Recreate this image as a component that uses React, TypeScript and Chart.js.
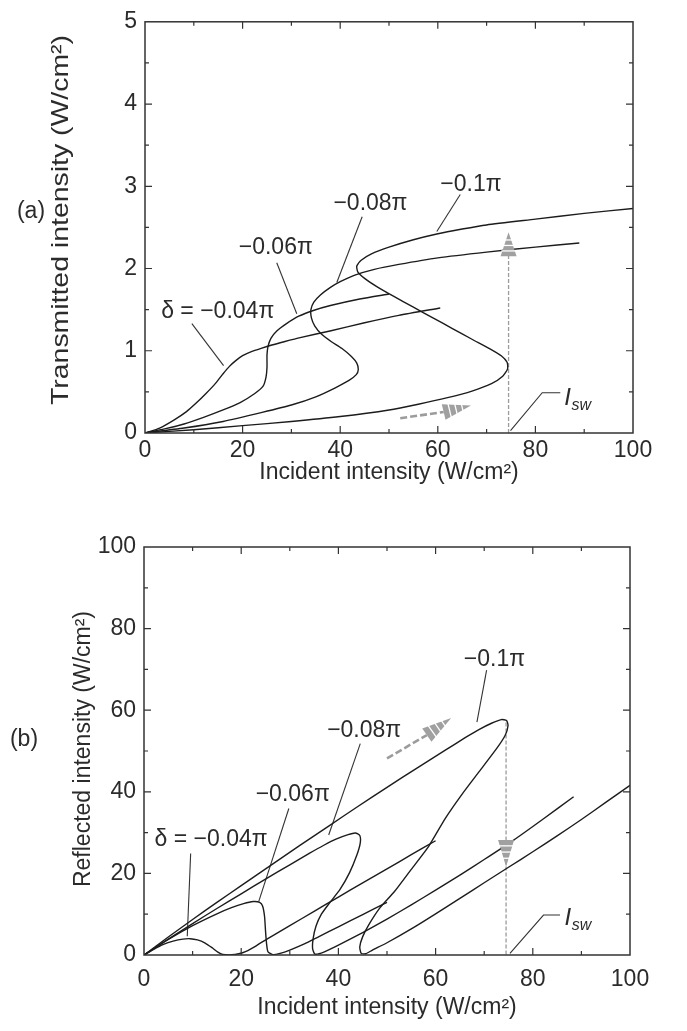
import React, { useEffect, useRef } from "react";
import { Chart, registerables } from "chart.js";

Chart.register(...registerables);

type P = [number, number];

// ---------- axis ticks ----------
const xTicks = [0, 20, 40, 60, 80, 100];
const xMinorTicks = [10, 30, 50, 70, 90];
const transYTicks = [0, 1, 2, 3, 4, 5];
const transYMinorTicks = [0.5, 1.5, 2.5, 3.5, 4.5];
const reflYTicks = [0, 20, 40, 60, 80, 100];
const reflYMinorTicks = [10, 30, 50, 70, 90];

// ---------- (a) transmitted intensity vs incident intensity ----------
const transDelta004: P[] = [[0,0],[3,0.06],[6,0.16],[8.5,0.26],[10.6,0.37],[12.5,0.48],[14.4,0.6],[16,0.72],[17.3,0.81],[18.6,0.88],[20,0.94],[21.8,0.99],[23.8,1.03],[26,1.07],[28.5,1.11],[31.8,1.16],[37.9,1.24],[45,1.34],[52,1.43],[60.5,1.52]];
const transDelta006: P[] = [[0,0],[4,0.05],[8,0.11],[12,0.19],[16,0.28],[19.5,0.37],[22.5,0.48],[24.2,0.57],[24.8,0.68],[25,0.8],[25,0.95],[25.2,1.05],[25.8,1.15],[27,1.24],[29,1.33],[31.5,1.42],[34.5,1.49],[38,1.55],[44,1.63],[50,1.69]];
const transDelta008: P[] = [[0,0],[8,0.06],[16,0.14],[24,0.25],[30,0.34],[35,0.44],[39,0.55],[41.8,0.64],[43.3,0.71],[43.7,0.77],[43.4,0.85],[42.3,0.93],[40.3,1.03],[38.2,1.11],[36.2,1.2],[34.8,1.3],[34.1,1.4],[34,1.5],[34.6,1.59],[36,1.68],[38,1.77],[40,1.84],[43,1.92],[47,1.99],[52,2.05],[60,2.13],[70,2.2],[80,2.26],[89,2.31]];
const transDelta010: P[] = [[0,0],[10,0.04],[20,0.09],[30,0.14],[40,0.2],[50,0.28],[56,0.35],[62,0.43],[67,0.51],[71,0.6],[73.3,0.69],[74.3,0.78],[74.2,0.86],[73,0.94],[70.5,1.03],[67,1.14],[63,1.27],[59,1.4],[55,1.53],[51,1.66],[47.5,1.78],[45,1.88],[43.6,1.96],[43.4,2.03],[44.3,2.1],[46.5,2.18],[50,2.26],[55,2.35],[59.8,2.42],[65,2.48],[70,2.53],[80,2.6],[90,2.67],[100,2.73]];

// ---------- (b) reflected intensity vs incident intensity ----------
const reflDelta004: P[] = [[0,0],[2,1.4],[4,2.6],[6,3.4],[8,3.9],[9.5,4.0],[11,3.7],[12.5,3.0],[14,1.8],[15.2,0.7],[16.2,0.15],[18,0.05],[19.5,0.3],[21,0.9],[23,2.2],[26,4.4],[30,7.2],[35,10.7],[40,14.2],[45,17.7],[50,21.1],[55,24.6],[60,28]];
const reflDelta006: P[] = [[0,0],[5,3.8],[10,7.2],[15,10.1],[18,11.6],[20.5,12.6],[22.5,13.1],[23.8,12.9],[24.4,12],[24.8,9.5],[25,6],[25.2,3],[25.5,0.8],[26.5,0.1],[28,0.4],[30,1.2],[33,2.7],[36,4.5],[40,6.9],[45,9.9],[50,12.9]];
const reflDelta008: P[] = [[0,0],[5,3.9],[10,7.7],[15,11.4],[20,15],[25,18.6],[30,22.1],[34,24.9],[37,26.9],[39.5,28.4],[42,29.5],[43.5,29.9],[44.4,29.3],[44.5,27.5],[43.8,24.5],[42.3,20.2],[40.3,16],[38.2,12.8],[36.5,10],[35.4,7.1],[34.8,4],[34.7,1.5],[35.2,0.2],[37,0.7],[40,2.4],[45,5.5],[50,8.8],[55,12.3],[60,15.9],[65,19.6],[70,23.4],[76,28.1],[82,33.2],[88.4,38.8]];
const reflDelta010: P[] = [[0,0],[5,4.4],[10,8.7],[15,12.9],[20,17],[26,21.9],[32,26.8],[38,31.6],[44,36.4],[50,41.1],[56,45.7],[62,50.2],[66,53.2],[69,55.3],[71.5,56.8],[73.5,57.7],[74.6,57.5],[74.9,56.2],[74.3,53.8],[72.5,50.5],[69,45],[65.5,39.5],[62,33.5],[58.5,26.5],[55,21],[51.5,15.5],[48.5,11.5],[46.3,7.5],[45,4.5],[44.4,2],[44.7,0.4],[45.6,0.3],[47,1.2],[50,3.0],[55,6.4],[60,10.1],[65,13.9],[70,17.7],[75,21.5],[80,25.3],[85,29.2],[90,33.2],[95,37.4],[100,41.6]];

// ---------- annotations (data coordinates) ----------
const curveLabels = ["δ = −0.04π", "−0.06π", "−0.08π", "−0.1π"];
const transLabelPos: P[] = [[14.9,1.47],[26.8,2.25],[46.2,2.79],[66.8,3.02]];
const transLeaders: P[][] = [[[9.6,1.33],[16.1,0.82]],[[27.0,2.07],[31.1,1.45]],[[44.5,2.63],[39.3,1.83]],[[64.6,2.9],[59.8,2.45]]];
const reflLabelPos: P[] = [[13.8,28.2],[30.6,39.2],[45.3,55.1],[72.1,72.5]];
const reflLeaders: P[][] = [[[9.6,24.9],[8.9,4.6]],[[29.8,35.9],[23.6,13.1]],[[44.5,51.8],[38,29.4]],[[70.5,69.8],[68.5,57.1]]];

const switchIntensity = 74.5;
const transSwitchLine: P[] = [[switchIntensity,0],[switchIntensity,2.2]];
const transSwitchHead: P[] = [[switchIntensity,2.15],[switchIntensity,2.44]]; // base, tip
const reflSwitchLine: P[] = [[switchIntensity,57],[switchIntensity,0]];
const reflSwitchHead: P[] = [[switchIntensity,28.2],[switchIntensity,21.6]];

const transArrowShaft: P[] = [[52.3,0.18],[61.2,0.255]];
const transArrowHead: P[] = [[61.2,0.255],[66.8,0.335]];
const reflArrowShaft: P[] = [[50,48.2],[58.2,53.9]];
const reflArrowHead: P[] = [[58.2,53.9],[63.2,58.1]];

const transIswLeader: P[] = [[74.9,0.03],[81.4,0.49],[85.1,0.49]];
const transIswPos: P = [86.6,0.42];
const reflIswLeader: P[] = [[75.3,0.4],[82.2,9.8],[85.6,9.8]];
const reflIswPos: P = [87.2,8.9];

// ---------- styling ----------
const FONT = "'Liberation Sans', Arial, Helvetica, sans-serif";
const INK = "#1c1c1c";
const TEXT = "#2b2b2b";
const GREY = "#9c9c9c";

const pts = (a: P[]) => a.map(([x, y]) => ({ x, y }));

function curve(a: P[]) {
  return { data: pts(a), showLine: true, pointRadius: 0, borderColor: INK, borderWidth: 1.4, tension: 0.2, fill: false };
}
function leader(a: P[]) {
  return { data: pts(a), showLine: true, pointRadius: 0, borderColor: "#333", borderWidth: 1.1, tension: 0, fill: false };
}
function dashed(a: P[], w: number, dash: number[]) {
  return { data: pts(a), showLine: true, pointRadius: 0, borderColor: GREY, borderWidth: w, borderDash: dash, tension: 0, fill: false };
}

interface Decor {
  yMinor: number[];
  yMajor: number[];
  labelPos: P[];
  heads: P[][];
  isw: P;
  yTitle: string;
  yTitleSize: number;
  yTitleX: number;
  yTitleY: number;
  yTitleLen: number | null;
  xTitleY: number;
  panel: string;
  panelX: number;
  panelY: number;
}

function decorPlugin(d: Decor) {
  return {
    id: "decor",
    afterDatasetsDraw(chart: any) {
      const { ctx, chartArea: ca } = chart;
      const sx = chart.scales.x;
      const sy = chart.scales.y;
      const px = (v: number) => sx.getPixelForValue(v);
      const py = (v: number) => sy.getPixelForValue(v);
      ctx.save();
      // frame
      ctx.strokeStyle = "#333";
      ctx.lineWidth = 1.5;
      ctx.strokeRect(ca.left, ca.top, ca.right - ca.left, ca.bottom - ca.top);
      // inward ticks
      ctx.lineWidth = 1.2;
      const tickX = (v: number, len: number) => {
        const x = px(v);
        ctx.beginPath();
        ctx.moveTo(x, ca.bottom); ctx.lineTo(x, ca.bottom - len);
        ctx.moveTo(x, ca.top); ctx.lineTo(x, ca.top + len);
        ctx.stroke();
      };
      const tickY = (v: number, len: number) => {
        const y = py(v);
        ctx.beginPath();
        ctx.moveTo(ca.left, y); ctx.lineTo(ca.left + len, y);
        ctx.moveTo(ca.right, y); ctx.lineTo(ca.right - len, y);
        ctx.stroke();
      };
      xTicks.slice(1, -1).forEach((v) => tickX(v, 7));
      xMinorTicks.forEach((v) => tickX(v, 4));
      d.yMajor.slice(1, -1).forEach((v) => tickY(v, 7));
      d.yMinor.forEach((v) => tickY(v, 4));

      // arrow heads (base -> tip)
      d.heads.forEach(([b, t]) => {
        const bx = px(b[0]), by = py(b[1]), tx = px(t[0]), ty = py(t[1]);
        const dx = tx - bx, dy = ty - by;
        const L = Math.hypot(dx, dy);
        const ux = dx / L, uy = dy / L;
        const nx = -uy, ny = ux;
        const hw = 8;
        ctx.fillStyle = "#a0a0a0";
        ctx.beginPath();
        ctx.moveTo(tx, ty);
        ctx.lineTo(bx + nx * hw, by + ny * hw);
        ctx.lineTo(bx - nx * hw, by - ny * hw);
        ctx.closePath();
        ctx.fill();
        ctx.strokeStyle = "#ffffff";
        ctx.lineWidth = 1.3;
        [0.22, 0.45, 0.68].forEach((f) => {
          const cx = bx + dx * f, cy = by + dy * f;
          const w = hw * (1 - f) + 1;
          ctx.beginPath();
          ctx.moveTo(cx + nx * w, cy + ny * w);
          ctx.lineTo(cx - nx * w, cy - ny * w);
          ctx.stroke();
        });
      });

      // curve labels
      ctx.fillStyle = TEXT;
      ctx.font = `23px ${FONT}`;
      ctx.textAlign = "center";
      ctx.textBaseline = "middle";
      d.labelPos.forEach((p, i) => ctx.fillText(curveLabels[i], px(p[0]), py(p[1])));

      // I_sw
      const ix = px(d.isw[0]), iy = py(d.isw[1]);
      ctx.font = `italic 24px ${FONT}`;
      ctx.fillText("I", ix, iy);
      ctx.font = `italic 16px ${FONT}`;
      ctx.textAlign = "left";
      ctx.fillText("sw", ix + 4, iy + 7);

      // x title
      ctx.font = `23px ${FONT}`;
      ctx.textAlign = "center";
      ctx.fillText("Incident intensity (W/cm²)", (ca.left + ca.right) / 2, d.xTitleY);

      // panel label
      ctx.fillText(d.panel, d.panelX, d.panelY);

      // y title
      ctx.save();
      ctx.translate(d.yTitleX, d.yTitleY);
      ctx.rotate(-Math.PI / 2);
      ctx.font = `${d.yTitleSize}px ${FONT}`;
      if (d.yTitleLen) {
        const w = ctx.measureText(d.yTitle).width;
        ctx.scale(d.yTitleLen / w, 1);
      }
      ctx.fillText(d.yTitle, 0, 0);
      ctx.restore();

      ctx.restore();
    },
  };
}

function makeConfig(opts: {
  datasets: any[];
  yMax: number;
  yTicks: number[];
  yWidth: number;
  xHeight: number;
  pad: { left: number; right: number; top: number; bottom: number };
  xPad: number;
  decor: Decor;
}) {
  const tickFont = { family: FONT, size: 23 };
  return {
    type: "scatter" as const,
    data: { datasets: opts.datasets },
    options: {
      animation: false as const,
      responsive: true,
      maintainAspectRatio: false,
      events: [],
      layout: { padding: opts.pad },
      plugins: { legend: { display: false }, tooltip: { enabled: false } },
      scales: {
        x: {
          type: "linear" as const,
          min: 0,
          max: 100,
          afterBuildTicks: (s: any) => { s.ticks = xTicks.map((v) => ({ value: v })); },
          afterFit: (s: any) => { s.height = opts.xHeight; },
          ticks: { color: TEXT, font: tickFont, padding: opts.xPad, maxRotation: 0, autoSkip: false },
          grid: { display: false, drawTicks: false },
          border: { display: false },
        },
        y: {
          type: "linear" as const,
          min: 0,
          max: opts.yMax,
          afterBuildTicks: (s: any) => { s.ticks = opts.yTicks.map((v) => ({ value: v })); },
          afterFit: (s: any) => { s.width = opts.yWidth; },
          ticks: { color: TEXT, font: tickFont, padding: 8, autoSkip: false },
          grid: { display: false, drawTicks: false },
          border: { display: false },
        },
      },
    },
    plugins: [decorPlugin(opts.decor)],
  };
}

export default function App() {
  const refA = useRef<HTMLCanvasElement>(null);
  const refB = useRef<HTMLCanvasElement>(null);

  useEffect(() => {
    const cfgA = makeConfig({
      datasets: [
        curve(transDelta004), curve(transDelta006), curve(transDelta008), curve(transDelta010),
        ...transLeaders.map(leader), leader(transIswLeader),
        dashed(transSwitchLine, 1.3, [4, 2]),
        dashed(transArrowShaft, 2.6, [7, 3]),
      ],
      yMax: 5,
      yTicks: transYTicks,
      yWidth: 145,
      xHeight: 67,
      pad: { left: 0, right: 54, top: 15, bottom: 0 },
      xPad: 4,
      decor: {
        yMinor: transYMinorTicks, yMajor: transYTicks, labelPos: transLabelPos,
        heads: [transSwitchHead, transArrowHead], isw: transIswPos,
        yTitle: "Transmitted intensity (W/cm²)", yTitleSize: 24, yTitleX: 61, yTitleY: 220, yTitleLen: 370,
        xTitleY: 473, panel: "(a)", panelX: 31, panelY: 212,
      },
    });
    const cfgB = makeConfig({
      datasets: [
        curve(reflDelta004), curve(reflDelta006), curve(reflDelta008), curve(reflDelta010),
        ...reflLeaders.map(leader), leader(reflIswLeader),
        dashed(reflSwitchLine, 1.3, [4, 2]),
        dashed(reflArrowShaft, 2.6, [7, 3]),
      ],
      yMax: 100,
      yTicks: reflYTicks,
      yWidth: 144,
      xHeight: 76,
      pad: { left: 0, right: 57, top: 47, bottom: 0 },
      xPad: 11,
      decor: {
        yMinor: reflYMinorTicks, yMajor: reflYTicks, labelPos: reflLabelPos,
        heads: [reflSwitchHead, reflArrowHead], isw: reflIswPos,
        yTitle: "Reflected intensity (W/cm²)", yTitleSize: 23, yTitleX: 84, yTitleY: 249, yTitleLen: null,
        xTitleY: 508, panel: "(b)", panelX: 24, panelY: 240,
      },
    });
    const a = new Chart(refA.current as HTMLCanvasElement, cfgA as any);
    const b = new Chart(refB.current as HTMLCanvasElement, cfgB as any);
    return () => { a.destroy(); b.destroy(); };
  }, []);

  return (
    <div style={{ position: "absolute", left: 0, top: 0, width: 687, height: 1031, background: "#fff" }}>
      <div style={{ position: "absolute", left: 0, top: 0, width: 687, height: 500 }}>
        <canvas ref={refA} />
      </div>
      <div style={{ position: "absolute", left: 0, top: 500, width: 687, height: 531 }}>
        <canvas ref={refB} />
      </div>
    </div>
  );
}
